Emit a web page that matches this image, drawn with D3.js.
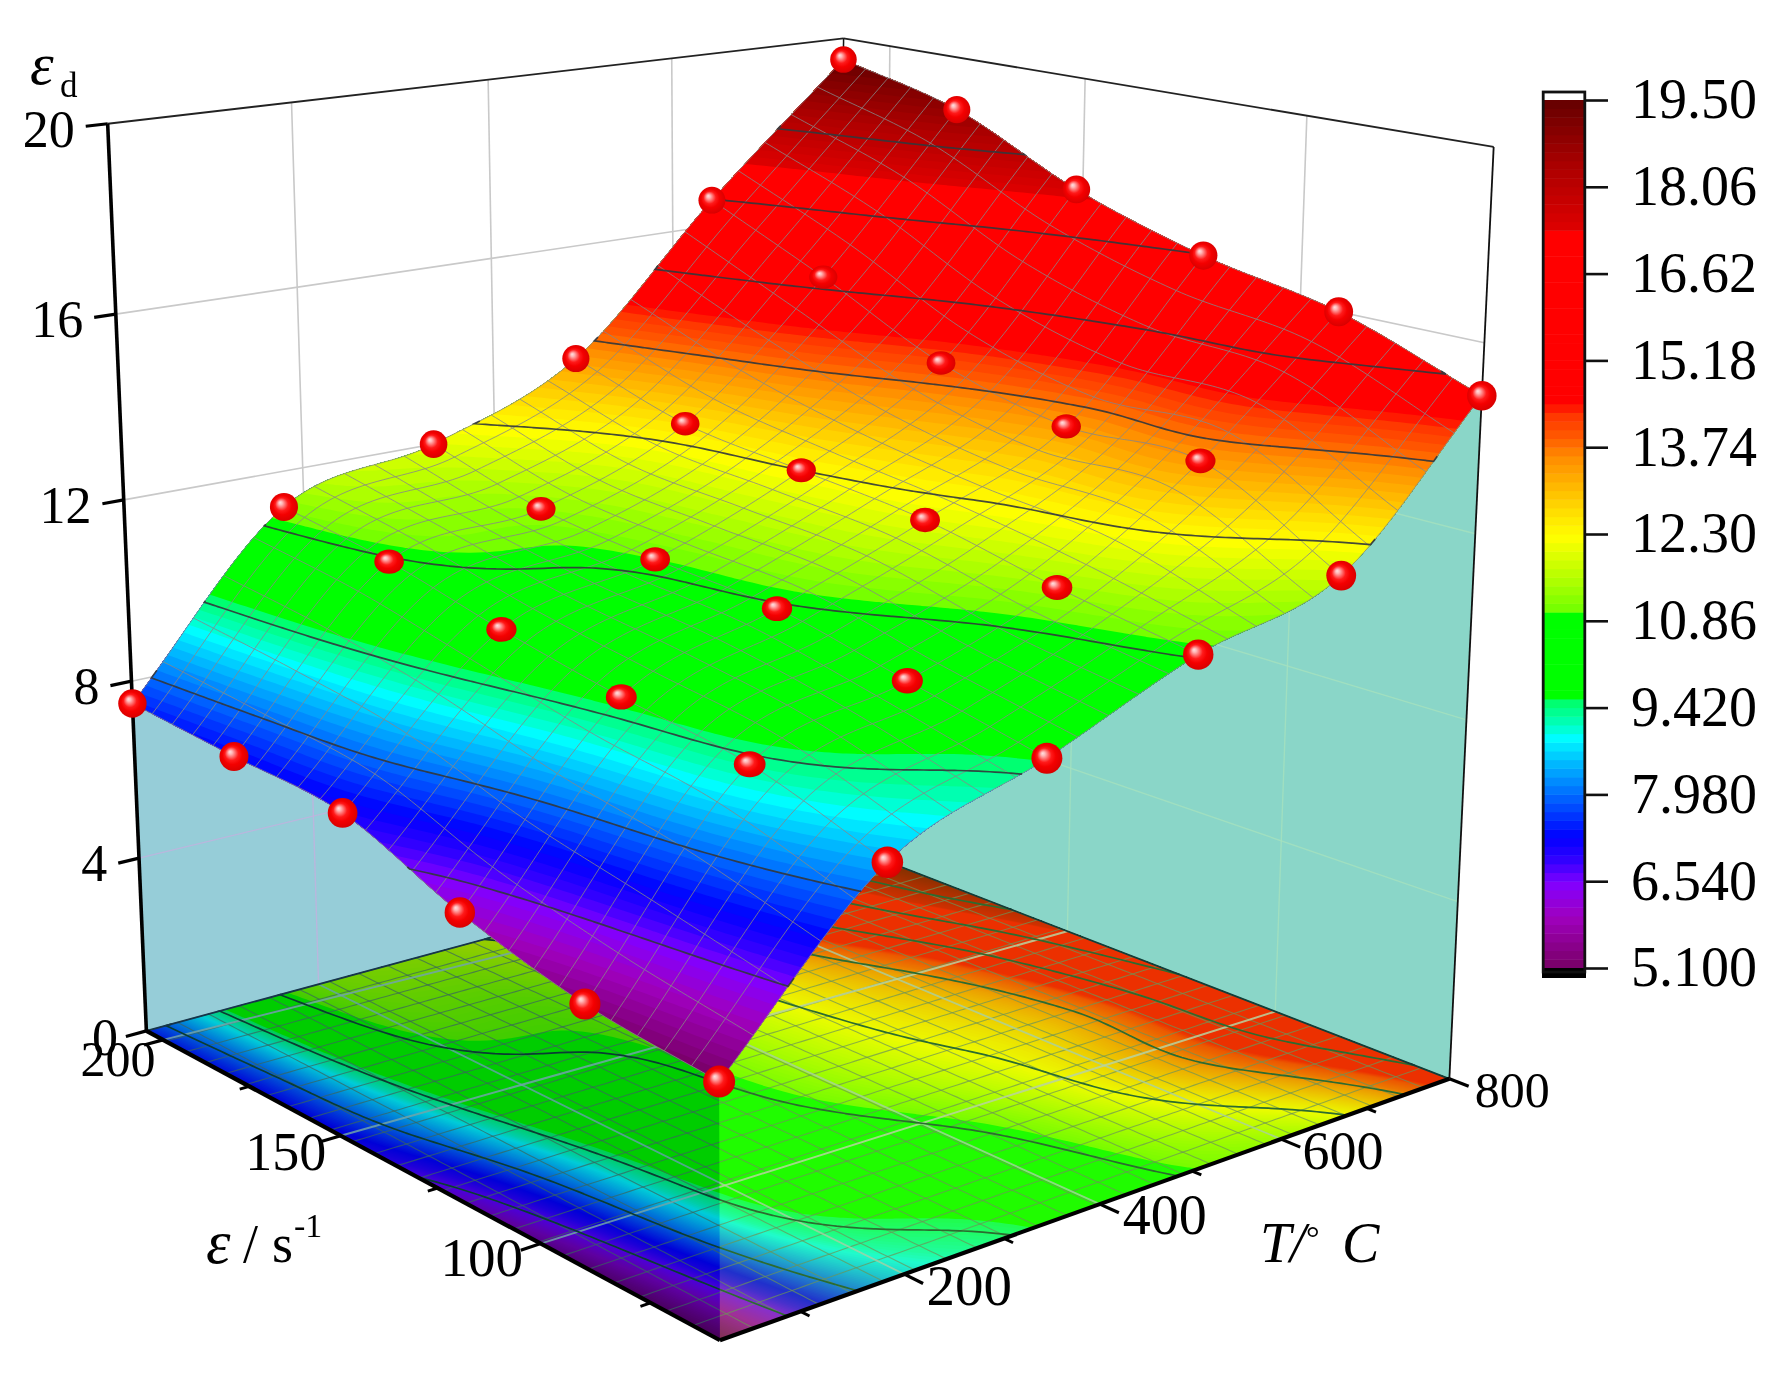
<!DOCTYPE html>
<html><head><meta charset="utf-8"><script src="https://cdn.jsdelivr.net/npm/d3@7"></script>
<style>html,body{margin:0;background:#fff}svg{display:block}text{font-family:"Liberation Serif","Times New Roman",serif;fill:#000}</style></head><body>
<svg id="c" width="1777" height="1377"></svg>
<script>
// ---------- data ----------
const strainRates=[60,89,118,147,176,205];
const temperatures=[25,180,335,490,645,800];
const zT25 =[5.1,5.4,6.1,7.1,7.3,7.5];
const zT180=[8.4,9.3,9.7,10.2,10.8,11.2];
const zT335=[9.6,10.2,10.8,11.0,11.3,12.0];
const zT490=[10.9,11.4,12.0,12.3,12.6,13.4];
const zT645=[11.8,13.4,13.4,14.1,15.4,16.6];
const zT800=[14.9,16.0,16.6,17.5,18.8,19.5];
const zTicks=[0,4,8,12,16,20];
const rateTicks=[100,150,200], rateMinor=[75,125,175];
const rateWallLines=[97,145.5,193];
const tempTicks=[200,400,600,800], tempMinor=[100,300,500,700];
const rateTickFont=[55,54,50], tempTickFont=[57,56,54,50];
const barLabels=["5.100","6.540","7.980","9.420","10.86","12.30","13.74","15.18","16.62","18.06","19.50"];
const barValues=[5.1,6.54,7.98,9.42,10.86,12.3,13.74,15.18,16.62,18.06,19.5];
const colorValues=[5.1,5.95,6.5,6.89,7.28,8.0,8.27,8.72,8.93,9.1,9.55,9.58,10.98,11.0,11.48,12.25,12.58,13.03,13.58,13.91,14.31,14.47,17.34,17.4,17.79,18.34,19.06,19.5];
const colorList=["#780064","#a000be","#8200ff","#3200ff","#0000ff","#006eff","#0096ff","#00dcff","#00ffff","#00ffc8","#00ff64","#00ff00","#00ff00","#6eff00","#aaff00","#ffff00","#ffe600","#ffbe00","#ff8c00","#ff5a00","#ff3200","#ff0000","#ff0000","#dc0000","#c80000","#af0000","#820000","#640000"];
const grid=[zT25,zT180,zT335,zT490,zT645,zT800];

// ---------- projection: a projective camera fitted to the box corners seen in the picture ----------
const boxCorners=[[0,0,0,146,1030],[0,0,1,108,124],[1,0,0,720,1341],[1,1,0,1449,1078],[1,1,1,1494,147],[0,1,0,840,844],[0,1,1,843,38]];
function solve(A,b){const n=b.length,M=A.map((r,i)=>[...r,b[i]]);for(let i=0;i<n;i++){let q=i;for(let r=i+1;r<n;r++)if(Math.abs(M[r][i])>Math.abs(M[q][i]))q=r;[M[i],M[q]]=[M[q],M[i]];for(let r=0;r<n;r++){if(r===i)continue;const f=M[r][i]/M[i][i];for(let c=i;c<=n;c++)M[r][c]-=f*M[i][c];}}return M.map((r,i)=>r[n]/r[i]);}
const R=[],Y=[];for(const [a,b,c,x,y] of boxCorners){const X=x/1000,V=y/1000;R.push([a,b,c,1,0,0,0,0,-X*a,-X*b,-X*c]);Y.push(X);R.push([0,0,0,0,a,b,c,1,-V*a,-V*b,-V*c]);Y.push(V);}
const idx=d3.range(11);
const p=solve(idx.map(i=>idx.map(j=>d3.sum(R,r=>r[i]*r[j]))),idx.map(i=>d3.sum(R,(r,q)=>r[i]*Y[q])));
const rawP=(a,b,c)=>{const w=p[8]*a+p[9]*b+p[10]*c+1;return [1000*(p[0]*a+p[1]*b+p[2]*c+p[3])/w,1000*(p[4]*a+p[5]*b+p[6]*c+p[7])/w,w];};
const sA=d3.scaleLinear().domain([60,205]).range([1,0]);
const sB=d3.scaleLinear().domain([25,800]).range([0,1]);
const sC=d3.scaleLinear().domain([0,20]).range([0,1]);
const P=(rate,temp,z)=>rawP(sA(rate),sB(temp),sC(z));

// ---------- surface resampling for drawing the smooth sheet through the 36 measured points ----------
const n=126;
const uRate=d3.scaleLinear().domain([0,n-1]).range([60,205]);
const uTemp=d3.scaleLinear().domain([0,n-1]).range([25,800]);
function cr1(v,t){const m=v.length-1,k=Math.min(m-1,Math.floor(t)),f=t-k;const g=i=>i<0?2*v[0]-v[1]:i>m?2*v[m]-v[m-1]:v[i];const a=g(k-1),b=g(k),c=g(k+1),d=g(k+2);return 0.5*((2*b)+(c-a)*f+(2*a-5*b+4*c-d)*f*f+(3*b-a-3*c+d)*f*f*f);}
const values=new Float64Array(n*n);
for(let j=0;j<n;j++)for(let i=0;i<n;i++){const ti=i/(n-1)*5,tj=j/(n-1)*5;values[j*n+i]=cr1(grid.map(r=>cr1(r,ti)),tj);}
const zS=(i,j)=>values[Math.min(n-1,j)*n+Math.min(n-1,i)];
function zAt(u,v){const i=Math.floor(u),j=Math.floor(v),f=u-i,g=v-j;return (1-g)*((1-f)*zS(i,j)+f*zS(i+1,j))+g*((1-f)*zS(i,j+1)+f*zS(i+1,j+1));}
const toUV=q=>[Math.max(0,Math.min(n-1,q[0]-0.5)),Math.max(0,Math.min(n-1,q[1]-0.5))];
const onSurface=q=>{const [u,v]=toUV(q);return P(uRate(u),uTemp(v),zAt(u,v));};
const onFloor=q=>{const [u,v]=toUV(q);return P(uRate(u),uTemp(v),0);};
const fmt=q=>q[0].toFixed(1)+","+q[1].toFixed(1);
const polyPath=pts=>"M"+pts.map(fmt).join("L")+"Z";
const mpPath=(geo,proj)=>geo.coordinates.map(poly=>poly.map(ring=>polyPath(ring.map(proj))).join("")).join("");
const color=d3.scaleLinear().domain(colorValues).range(colorList).clamp(true);
const contourGen=d3.contours().size([n,n]).smooth(true);

const svg=d3.select("#c");
const defs=svg.append("defs");
const rows=d3.range(n);
const edgeT0=rows.map(i=>P(uRate(i),25,zS(i,0)));
const edgeR0=rows.map(j=>P(60,uTemp(j),zS(0,j)));
const leftCurtain=polyPath([P(205,25,0),P(60,25,0),...edgeT0]);
const rightCurtain=polyPath([P(60,25,0),P(60,800,0),...edgeR0.slice().reverse()]);
const floorPoly=polyPath([P(205,25,0),P(60,25,0),P(60,800,0),P(205,800,0)]);
defs.append("clipPath").attr("id","cL").append("path").attr("d",leftCurtain);
defs.append("clipPath").attr("id","cR").append("path").attr("d",rightCurtain);
defs.append("clipPath").attr("id","cF").append("path").attr("d",floorPoly);
const grad=defs.append("radialGradient").attr("id","ball").attr("cx",.5).attr("cy",.5).attr("r",.55).attr("fx",.36).attr("fy",.34);
[[0,"#ffe0e0"],[.12,"#ffb8b8"],[.42,"#ff1a1a"],[.62,"#f40000"],[.9,"#dc0000"],[1,"#c00000"]].forEach(s=>grad.append("stop").attr("offset",s[0]).attr("stop-color",s[1]));

const line=(g,a,b,stroke,w)=>g.append("line").attr("x1",a[0]).attr("y1",a[1]).attr("x2",b[0]).attr("y2",b[1]).attr("stroke",stroke).attr("stroke-width",w);

// back wall grid
function wallGrid(g,stroke,w){
  zTicks.slice(1,5).forEach(z=>{line(g,P(205,25,z),P(205,800,z),stroke,w);line(g,P(205,800,z),P(60,800,z),stroke,w);});
  [200,400,600].forEach(t=>line(g,P(205,t,0),P(205,t,20),stroke,w));
  rateWallLines.forEach(r=>line(g,P(r,800,0),P(r,800,20),stroke,w));
}
wallGrid(svg.append("g"),"#c9c9c9",1.6);
line(svg,P(205,25,20),P(205,800,20),"#222",1.8);
line(svg,P(205,800,20),P(60,800,20),"#222",1.8);
line(svg,P(205,800,20),P(205,800,0),"#111",1.5);

// curtains
svg.append("path").attr("d",leftCurtain).attr("fill","rgb(150,205,216)");
svg.append("path").attr("d",rightCurtain).attr("fill","rgb(138,214,200)");
wallGrid(svg.append("g").attr("clip-path","url(#cL)"),"rgba(205,170,225,.65)",1.4);
wallGrid(svg.append("g").attr("clip-path","url(#cR)"),"rgba(165,225,190,.8)",1.4);
line(svg,P(60,800,0),P(60,800,20),"#111",1.8);

// floor projection
const floorLevels=d3.range(5.1,19.5,0.048);
const gF=svg.append("g");
gF.append("path").attr("d",floorPoly).attr("fill",color(5.1));
gF.selectAll("path.b").data(contourGen.thresholds(floorLevels)(values)).join("path").attr("class","b").attr("fill-rule","evenodd")
  .attr("d",d=>mpPath(d,onFloor)).attr("fill",d=>color(d.value+0.024));
function meshPaths(zf,everyK){const out=[];const lg=d3.line();
  for(let k=0;k<n;k+=everyK){out.push(lg(rows.map(i=>P(uRate(i),uTemp(k),zf(i,k)).slice(0,2))));out.push(lg(rows.map(j=>P(uRate(k),uTemp(j),zf(k,j)).slice(0,2))));}
  return out;}
gF.append("g").selectAll("path").data(meshPaths(()=>0,5)).join("path").attr("d",d=>d).attr("fill","none").attr("stroke","rgba(95,125,110,.7)").attr("stroke-width",1.1);
const gFG=gF.append("g");
[200,400,600].forEach(t=>line(gFG,P(205,t,0),P(60,t,0),"rgba(170,200,205,.8)",1.8));
rateTicks.forEach((r,i)=>line(gFG,P(r,25,0),P(rateWallLines[i],800,0),"rgba(190,205,200,.85)",2));
// iso lines
function isoPaths(proj){const lg=d3.line();const out=[];
  contourGen.thresholds(barValues.slice(1,10))(values).forEach(m=>m.coordinates.forEach(poly=>poly.forEach(ring=>{
    let cur=[];const isB=q=>q[0]<=0||q[0]>=n||q[1]<=0||q[1]>=n;
    for(let i=0;i<ring.length-1;i++){const a=ring[i],b=ring[i+1];
      if(isB(a)&&isB(b)){if(cur.length>1)out.push(lg(cur));cur=[];continue;}
      if(!cur.length)cur.push(proj(a).slice(0,2));cur.push(proj(b).slice(0,2));}
    if(cur.length>1)out.push(lg(cur));
  })));return out;}
gF.append("g").selectAll("path").data(isoPaths(onFloor)).join("path").attr("d",d=>d).attr("fill","none").attr("stroke","rgb(15,75,60)").attr("stroke-width",1.7);
svg.append("path").attr("d",rightCurtain).attr("clip-path","url(#cF)").attr("fill","rgb(160,240,0)").attr("fill-opacity",.2);
svg.append("path").attr("d",leftCurtain).attr("clip-path","url(#cF)").attr("fill","rgb(150,205,216)").style("mix-blend-mode","multiply");
line(svg,P(205,25,0),P(205,800,0),"#16354a",1.8);
line(svg,P(205,800,0),P(60,800,0),"#123d38",1.8);

// surface bands
const surfLevels=d3.range(100).map(i=>5.1+i*0.144);
const gS=svg.append("g");
gS.append("path").attr("fill",color(5.1)).attr("d",polyPath([...rows.map(i=>P(uRate(i),25,zS(i,0))),...rows.map(j=>P(205,uTemp(j),zS(n-1,j))),...rows.map(i=>P(uRate(n-1-i),800,zS(n-1-i,n-1))),...rows.map(j=>P(60,uTemp(n-1-j),zS(0,n-1-j)))]));
gS.selectAll("path.b").data(contourGen.thresholds(surfLevels)(values)).join("path").attr("class","b").attr("fill-rule","evenodd")
  .attr("d",d=>mpPath(d,onSurface)).attr("fill",d=>color(d.value+0.072));
gS.append("g").selectAll("path").data(meshPaths(zS,5)).join("path").attr("d",d=>d).attr("fill","none").attr("stroke","rgba(135,135,135,.8)").attr("stroke-width",1);
gS.append("g").selectAll("path").data(isoPaths(onSurface)).join("path").attr("d",d=>d).attr("fill","none").attr("stroke","rgba(50,55,60,.9)").attr("stroke-width",1.7);

// axes
line(svg,P(205,25,0),P(205,25,20),"#000",3.6);
line(svg,P(205,25,0),P(60,25,0),"#000",4.2);
line(svg,P(60,25,0),P(60,800,0),"#000",4.2);
const gA=svg.append("g").attr("stroke-linecap","butt");
const txt=(x,y,t,size,anchor,it)=>svg.append("text").attr("x",x).attr("y",y).attr("font-size",size).attr("text-anchor",anchor||"middle").attr("font-style",it?"italic":"normal").text(t);
zTicks.forEach(z=>{const a=P(205,25,z),b=rawP(0,-0.026,sC(z));line(gA,a,b,"#000",3.2);txt(b[0]-(z===0?8:11),a[1]+(z===0?24:23),String(z),52,"end");});
rateTicks.forEach((r,i)=>{const a=P(r,25,0),b=rawP(sA(r),-0.024,0);line(gA,a,b,"#000",3.2);txt(a[0]+[-59,-55,-45][i],a[1]+[14,16,18][i]+18,String(r),rateTickFont[i]);});
rateMinor.forEach(r=>{const a=P(r,25,0),b=rawP(sA(r),-0.012,0);line(gA,a,b,"#000",3);});
tempTicks.forEach((t,i)=>{const a=P(60,t,0),b=rawP(1.027,sB(t),0);line(gA,a,b,"#000",3.2);txt(a[0]+[65,65,62,63][i],a[1]+[13,12,12,10][i]+18,String(t),tempTickFont[i]);});
tempMinor.forEach(t=>{const a=P(60,t,0),b=rawP(1.013,sB(t),0);line(gA,a,b,"#000",3);});

// axis titles
txt(30,84,"ε",60,"start",true);
txt(60,97,"d",35,"start");
txt(206,1263,"ε",62,"start",true);
txt(243,1262,"/",54,"start");
txt(272,1262,"s",54,"start");
txt(294,1237,"-1",34,"start");
txt(1260,1262,"T",56,"start",true);
txt(1290,1262,"/",56,"start",true);
txt(1306,1249,"°",34,"start");
txt(1342,1262,"C",56,"start",true);

// spheres
const balls=[];
grid.forEach((row,j)=>row.forEach((z,i)=>balls.push({rate:strainRates[i],temp:temperatures[j],z,edge:i===0||i===5||j===0||j===5})));
const wFront=P(60,25,5.1)[2];
const ball=d=>P(d.rate,d.temp,d.z);
const sizeK=d=>Math.pow(wFront/ball(d)[2],0.7);
svg.append("g").selectAll("ellipse").data(balls.slice().sort((a,b)=>ball(b)[2]-ball(a)[2])).join("ellipse")
  .attr("cx",d=>ball(d)[0]).attr("cy",d=>ball(d)[1])
  .attr("rx",d=>(d.edge?16:16.5)*sizeK(d))
  .attr("ry",d=>(d.edge?16:13.5)*sizeK(d))
  .attr("fill","url(#ball)");

// colour bar
const yBar=d3.scaleLinear().domain([5.1,19.5]).range([968,100]);
const gB=svg.append("g");
gB.append("rect").attr("x",1544).attr("y",92).attr("width",40).attr("height",8).attr("fill","#fff");
gB.selectAll("rect.l").data(surfLevels).join("rect").attr("class","l").attr("x",1544).attr("width",40)
  .attr("y",d=>yBar(d+0.144)).attr("height",d=>yBar(d)-yBar(d+0.144)+.5).attr("fill",d=>color(d+0.072));
gB.append("rect").attr("x",1542).attr("y",968).attr("width",44).attr("height",10).attr("fill","#000");
gB.append("rect").attr("x",1543.2).attr("y",92).attr("width",41.6).attr("height",880).attr("fill","none").attr("stroke","#111").attr("stroke-width",2.8);
const axB=svg.append("g").attr("transform","translate(1586,0)").call(d3.axisRight(yBar).tickValues(barValues).tickSize(22).tickPadding(26).tickFormat((d,i)=>barLabels[i]));
axB.select(".domain").remove();
axB.selectAll("line").attr("stroke","#111").attr("stroke-width",2.6);
axB.selectAll("text").attr("font-size",56).attr("text-anchor","end").attr("x",171).attr("dy","0.32em").attr("font-family",'"Liberation Serif"').style("fill","#000");
</script></body></html>
